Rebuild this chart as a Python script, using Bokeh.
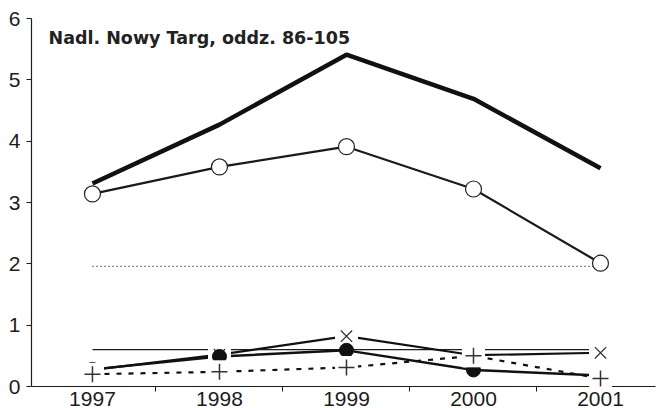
from bokeh.plotting import figure
from bokeh.models import FixedTicker, Label, Range1d, ColumnDataSource
from bokeh.embed import file_html
from bokeh.resources import INLINE

# ---------------- data ----------------
years = [1997, 1998, 1999, 2000, 2001]
year_labels = ["1997", "1998", "1999", "2000", "2001"]
category_edges = [1996.5, 1997.5, 1998.5, 1999.5, 2000.5]

thick_series = [3.31, 4.27, 5.41, 4.69, 3.56]
circle_series = [3.14, 3.58, 3.91, 3.22, 2.01]
dotted_level = [1.96, 1.96, 1.96, 1.96, 1.96]
thin_level = [0.60, 0.60, 0.60, 0.60, 0.60]
x_series = [0.27, 0.52, 0.82, 0.51, 0.55]
filled_series = [0.28, 0.49, 0.59, 0.27, 0.18]
plus_series = [0.20, 0.24, 0.31, 0.50, 0.13]

y_ticks = [0, 1, 2, 3, 4, 5, 6]
title_text = "Nadl. Nowy Targ, oddz. 86-105"

FONT = "Liberation Sans"
INK = "#1c1c1c"
X0, X1 = 1996.52, 2001.433

src = ColumnDataSource(dict(
    year=years, thick=thick_series, circ=circle_series, dot=dotted_level,
    thin=thin_level, xs=x_series, filled=filled_series, plus=plus_series,
))

p = figure(width=661, height=408, output_backend="svg", toolbar_location=None,
           x_range=Range1d(X0, X1), y_range=Range1d(0, 6),
           min_border_left=31, min_border_right=6, min_border_top=18,
           min_border_bottom=21)
p.background_fill_color = "white"
p.border_fill_color = "white"
p.outline_line_color = None
p.xgrid.visible = False
p.ygrid.visible = False

# axes
xa = p.xaxis[0]
xa.ticker = FixedTicker(ticks=years, minor_ticks=category_edges)
xa.major_label_overrides = {y: l for y, l in zip(years, year_labels)}
xa.major_tick_out = 0
xa.major_tick_in = 0
xa.minor_tick_out = 5
xa.minor_tick_in = 0
xa.minor_tick_line_color = INK
xa.axis_line_color = INK
xa.axis_line_width = 1.2
xa.major_label_standoff = 0
xa.major_label_text_font = FONT
xa.major_label_text_font_size = "21px"
xa.major_label_text_color = INK

ya = p.yaxis[0]
ya.ticker = FixedTicker(ticks=y_ticks)
ya.major_tick_out = 5
ya.major_tick_in = 0
ya.major_tick_line_color = INK
ya.axis_line_color = INK
ya.axis_line_width = 1.2
ya.major_label_standoff = 6
ya.major_label_text_font = FONT
ya.major_label_text_font_size = "21px"
ya.major_label_text_color = INK

# lines
p.line("year", "thick", source=src, line_color="#111111", line_width=4.5)
p.line("year", "circ", source=src, line_color="#1a1a1a", line_width=2.2)
p.line("year", "dot", source=src, line_color="#222222", line_width=1.2,
       line_dash="1 3")
p.line("year", "thin", source=src, line_color=INK, line_width=1.2)
p.line("year", "xs", source=src, line_color="#111111", line_width=2.2)
p.line("year", "filled", source=src, line_color="#111111", line_width=2.4)
p.line("year", "plus", source=src, line_color="#111111", line_width=2.2,
       line_dash="5 7")

# open circles
p.scatter("year", "circ", source=src, marker="circle", size=16,
          fill_color="white", line_color="#222222", line_width=1.2)

# white halos + markers (drawn above axes, like the original)
hx = p.scatter("year", "xs", source=src, marker="square", size=23,
               fill_color="white", line_color=None)
mx = p.scatter("year", "xs", source=src, marker="x", size=16,
               line_color="#333333", line_width=1.3)
mf = p.scatter("year", "filled", source=src, marker="circle", size=14,
               fill_color="#111111", line_color="#111111")
hp = p.scatter("year", "plus", source=src, marker="square", size=23,
               fill_color="white", line_color=None)
mp = p.scatter("year", "plus", source=src, marker="cross", size=16,
               line_color="#333333", line_width=1.5)
for r in (hx, mx, mf, hp, mp):
    r.level = "overlay"

# title inside the plot
p.add_layout(Label(x=X0, y=5.69, x_offset=17, text=title_text,
                   text_align="left", text_baseline="alphabetic",
                   text_font="DejaVu Sans", text_font_style="bold",
                   text_font_size="17.5px", text_color="#222222"))

open("out.html", "w").write(file_html(p, INLINE))
